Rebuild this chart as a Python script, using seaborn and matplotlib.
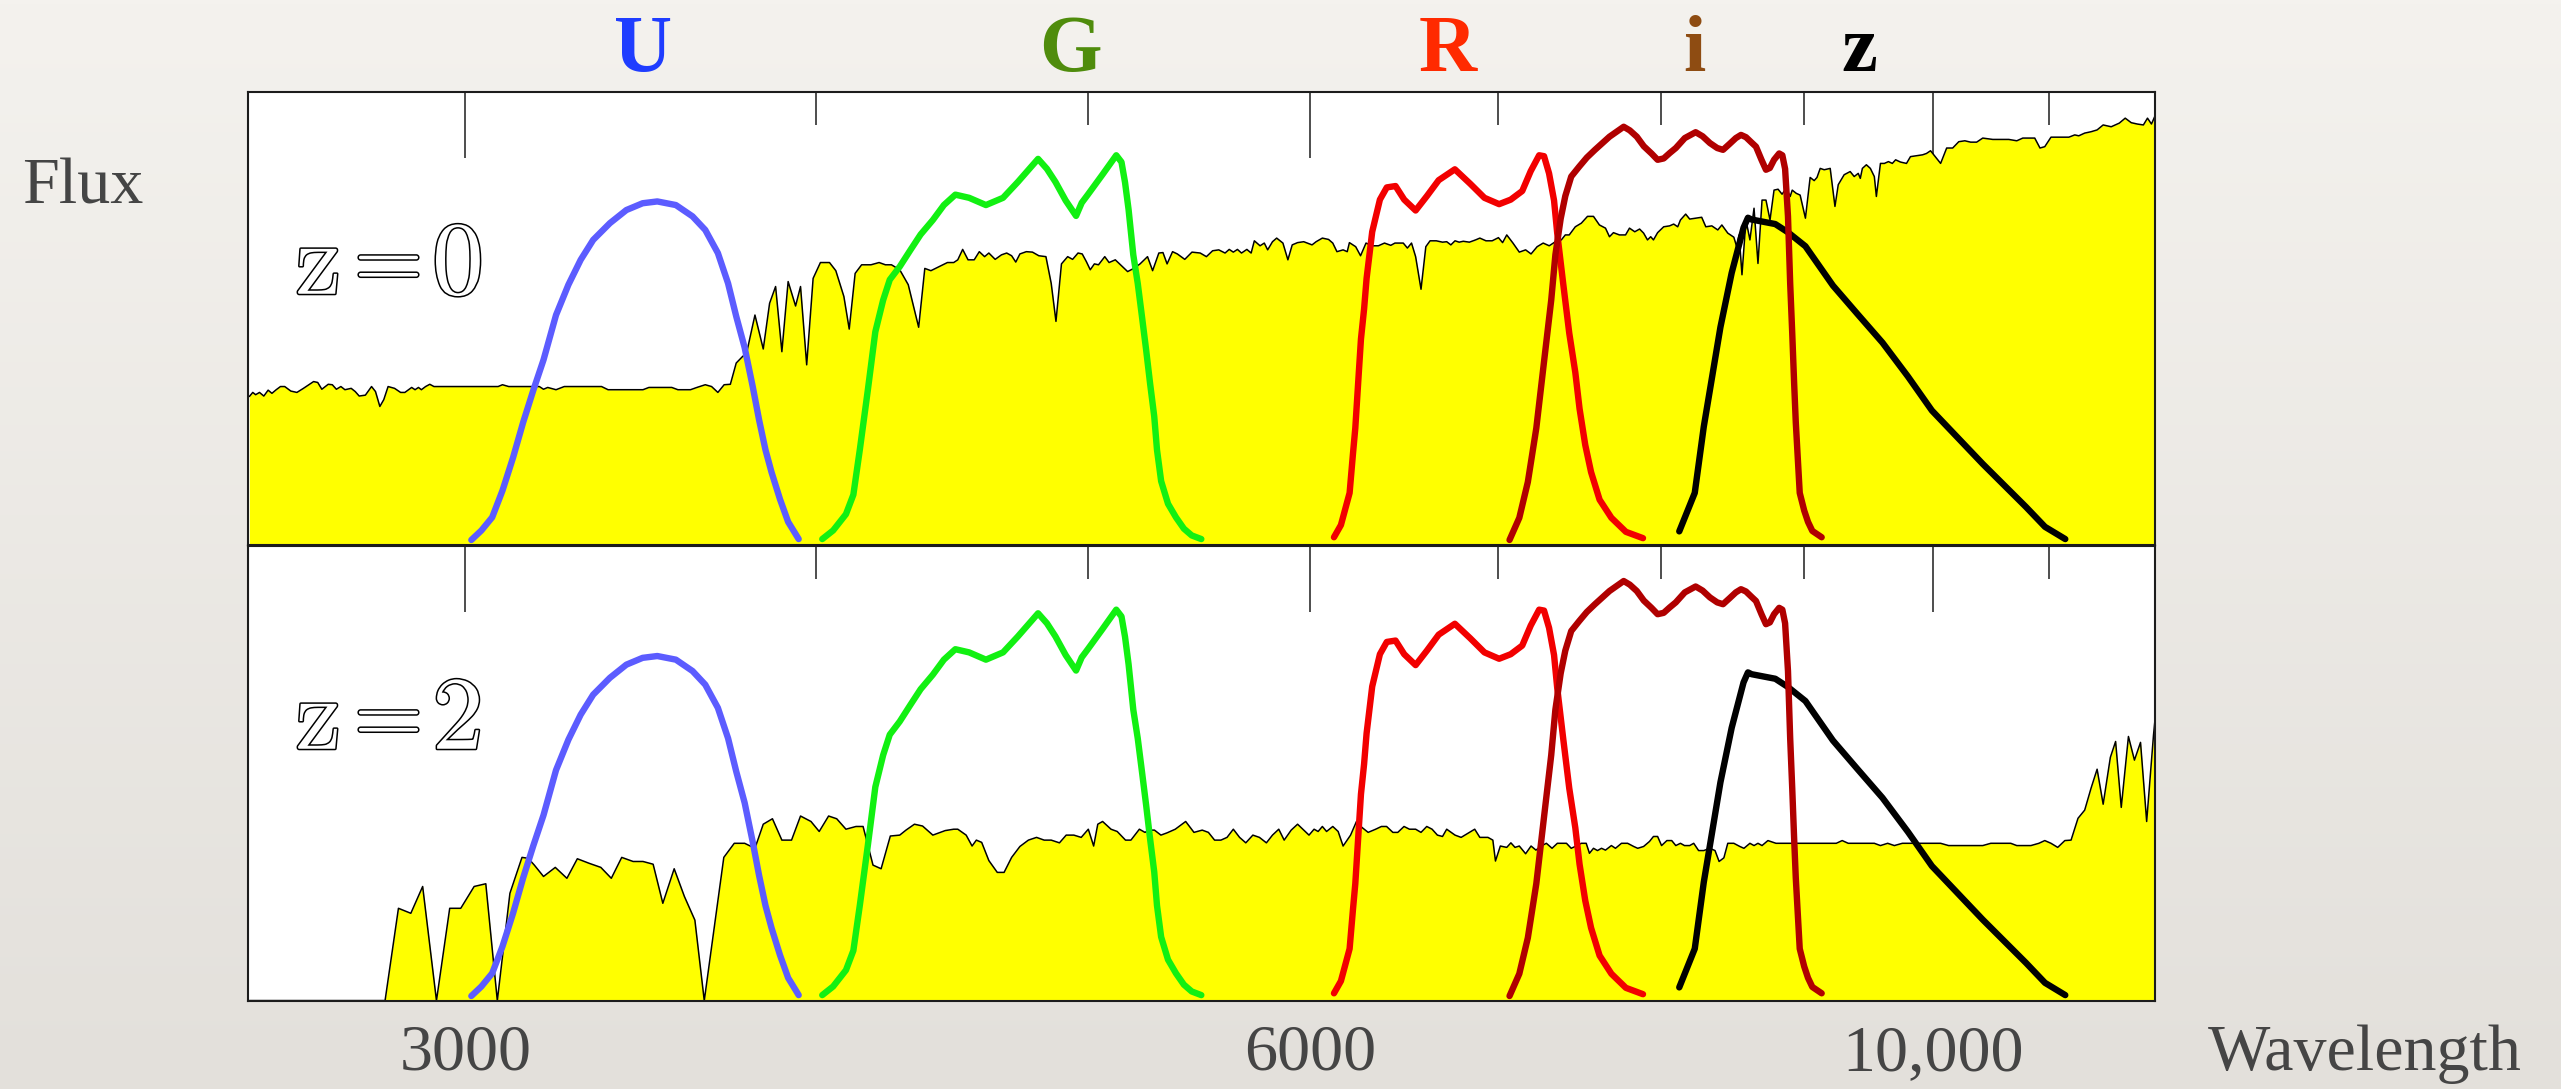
import numpy as np
import pandas as pd
import matplotlib
matplotlib.use("Agg")
import matplotlib.pyplot as plt
import matplotlib.patheffects as pe
from matplotlib.colors import LinearSegmentedColormap
from matplotlib.transforms import blended_transform_factory
from matplotlib.ticker import FixedLocator, FixedFormatter, NullFormatter
import seaborn as sns

# ---------------- galaxy spectrum at z = 0 (wavelength in Angstrom, relative flux) ----------------
z0_wave = [2513, 2520, 2526, 2534, 2543, 2552, 2560, 2569, 2578, 2587, 2600, 2613, 2627, 2640, 2649,
           2658, 2667, 2681, 2690, 2699, 2709, 2718, 2732, 2741, 2750, 2764, 2778, 2787, 2797, 2806,
           2816, 2831, 2845, 2855, 2865, 2871, 2879, 2887, 2894, 2904, 2914, 2924, 3082, 3093, 3109,
           3188, 3199, 3210, 3232, 3254, 3355, 3373, 3471, 3488, 3554, 3572, 3609, 3628, 3653, 3672,
           3691, 3710, 3729, 3747, 3766, 3779, 3805, 3831, 3851, 3870, 3890, 3910, 3934, 3950, 3970,
           3991, 4015, 4045, 4066, 4093, 4111, 4131, 4153, 4185, 4213, 4235,
           4256, 4285, 4315, 4337, 4352, 4374, 4396, 4426, 4456, 4479, 4494, 4512, 4532, 4555, 4574,
           4594, 4610, 4634, 4658, 4678, 4697, 4713, 4729, 4754, 4778, 4803, 4831, 4852, 4871, 4893,
           4918, 4938, 4960, 4977, 4994, 5010, 5027, 5044, 5070, 5088, 5114, 5140, 5166, 5192, 5219,
           5251, 5273, 5300, 5318, 5336, 5360, 5381, 5414, 5446, 5483, 5511, 5539, 5567, 5596, 5615,
           5634, 5653, 5672, 5697, 5717, 5732, 5759, 5779, 5795, 5818, 5838, 5868, 5892, 5913, 5939,
           5969, 6010, 6030, 6061, 6092, 6113, 6134, 6165, 6186, 6197, 6229, 6254, 6282, 6314, 6346,
           6378, 6411, 6433, 6477, 6499, 6521, 6543, 6572, 6598, 6621, 6655, 6689, 6712, 6735, 6758,
           6781, 6804, 6838, 6873, 6897, 6932, 6967, 7003, 7027, 7051, 7087, 7124, 7161,
           7193, 7229, 7265, 7301, 7338, 7374, 7398, 7422, 7459, 7496, 7534, 7571, 7608, 7646, 7671,
           7696, 7734, 7773, 7798, 7832, 7863, 7889, 7914, 7935, 7953, 7980, 8020, 8059, 8086, 8113,
           8131, 8166, 8193, 8233, 8274, 8302, 8343, 8384, 8412, 8453, 8495, 8515, 8532, 8552, 8580,
           8608, 8637, 8665, 8694, 8722, 8751, 8780, 8809, 8838, 8868, 8897, 8912, 8941, 8970, 9009,
           9044, 9074, 9095, 9119, 9149, 9194, 9230, 9255, 9300, 9346, 9377, 9408, 9424, 9440, 9471,
           9502, 9533, 9549, 9581, 9612, 9644, 9675, 9701, 9740, 9788, 9820, 9869, 9918, 9950, 9983,
           10066, 10116, 10166, 10217, 10268, 10317, 10368, 10420, 10506, 10645, 10715, 10768, 10874,
           10921, 10964, 11020, 11183, 11237, 11274, 11329, 11388, 11445, 11502, 11578, 11655, 11712,
           11770, 11829, 11888, 11928, 11967, 12000]
z0_flux = [0.327, 0.336, 0.331, 0.336, 0.328, 0.341, 0.334, 0.342, 0.349, 0.349, 0.339, 0.336, 0.345, 0.354, 0.360,
           0.358, 0.343, 0.354, 0.353, 0.343, 0.349, 0.342, 0.345, 0.338, 0.328, 0.330, 0.349, 0.338, 0.305, 0.320,
           0.349, 0.345, 0.336, 0.336, 0.343, 0.347, 0.342, 0.347, 0.342, 0.349, 0.354, 0.349, 0.349, 0.353, 0.349,
           0.349, 0.343, 0.347, 0.342, 0.349, 0.349, 0.342, 0.342, 0.347, 0.347, 0.342, 0.342, 0.347, 0.353, 0.349,
           0.336, 0.353, 0.354, 0.401, 0.415, 0.423, 0.507, 0.432, 0.533, 0.570, 0.426, 0.581, 0.527, 0.570, 0.397,
           0.588, 0.623, 0.623, 0.605, 0.548, 0.476, 0.599, 0.618, 0.618, 0.623, 0.618,
           0.618, 0.607, 0.574, 0.518, 0.480, 0.610, 0.605, 0.614, 0.623, 0.623, 0.629, 0.652, 0.629, 0.629, 0.647,
           0.636, 0.644, 0.630, 0.640, 0.644, 0.638, 0.624, 0.642, 0.647, 0.646, 0.638, 0.636, 0.577, 0.493, 0.620,
           0.636, 0.630, 0.644, 0.642, 0.625, 0.607, 0.620, 0.618, 0.636, 0.623, 0.629, 0.616, 0.603, 0.610, 0.620,
           0.636, 0.605, 0.644, 0.645, 0.620, 0.647, 0.642, 0.630, 0.646, 0.644, 0.636, 0.649, 0.651, 0.644, 0.652,
           0.646, 0.652, 0.644, 0.652, 0.644, 0.671, 0.660, 0.666, 0.651, 0.669, 0.677, 0.666, 0.629, 0.662, 0.667,
           0.669, 0.662, 0.669, 0.677, 0.674, 0.666, 0.647, 0.651, 0.647, 0.667, 0.658, 0.638, 0.666, 0.660, 0.660,
           0.666, 0.661, 0.666, 0.666, 0.655, 0.666, 0.636, 0.564, 0.658, 0.671, 0.671, 0.668, 0.669, 0.662, 0.671,
           0.668, 0.670, 0.668, 0.673, 0.677, 0.671, 0.671, 0.678, 0.667, 0.684, 0.666, 0.646, 0.651,
           0.642, 0.658, 0.666, 0.660, 0.669, 0.673, 0.684, 0.684, 0.702, 0.710, 0.725, 0.725, 0.706, 0.699, 0.680,
           0.689, 0.684, 0.684, 0.699, 0.691, 0.697, 0.688, 0.673, 0.680, 0.673, 0.689, 0.702, 0.704, 0.708, 0.702,
           0.717, 0.730, 0.719, 0.721, 0.723, 0.702, 0.704, 0.695, 0.706, 0.688, 0.679, 0.658, 0.684, 0.596, 0.717,
           0.673, 0.743, 0.621, 0.761, 0.761, 0.717, 0.783, 0.785, 0.774, 0.787, 0.769, 0.783, 0.776, 0.772, 0.721,
           0.811, 0.804, 0.811, 0.831, 0.828, 0.831, 0.747, 0.795, 0.817, 0.824, 0.813, 0.820, 0.809, 0.831, 0.839,
           0.831, 0.813, 0.769, 0.842, 0.842, 0.846, 0.842, 0.850, 0.845, 0.842, 0.857, 0.859, 0.861, 0.864, 0.870,
           0.842, 0.876, 0.876, 0.890, 0.892, 0.889, 0.889, 0.898, 0.895, 0.895, 0.892, 0.898, 0.898,
           0.876, 0.879, 0.900, 0.900, 0.905, 0.903, 0.909, 0.912, 0.916, 0.927, 0.923, 0.931, 0.942,
           0.932, 0.929, 0.927, 0.942, 0.929, 0.946]

# ---------------- the same galaxy redshifted to z = 2 ----------------
z2_wave = [2513, 2809, 2840, 2869, 2897, 2930, 2962, 2989, 3022, 3051, 3080, 3112, 3143, 3159, 3175,
           3199, 3230, 3261, 3289, 3321, 3353, 3382, 3411, 3443, 3471, 3500, 3528, 3561, 3591, 3622,
           3650, 3709, 3741, 3773, 3805, 3831, 3860, 3890, 3921, 3950, 3984, 4011, 4042, 4069, 4100,
           4134, 4158, 4192, 4220, 4252,
           4285, 4307, 4337, 4366, 4403, 4448, 4479, 4494, 4525, 4547, 4563, 4583, 4610, 4642, 4668,
           4697, 4729, 4762, 4794, 4824, 4852, 4885, 4912, 4943, 4973, 5002, 5024, 5041, 5061, 5096,
           5122, 5157, 5180, 5216, 5240, 5258, 5281, 5309, 5336, 5372, 5418, 5455, 5492, 5520, 5548,
           5577, 5605, 5634, 5663, 5692, 5725, 5756, 5789, 5818, 5848, 5874, 5908, 5939, 5969, 5995,
           6020, 6040, 6061, 6082, 6113, 6140, 6165, 6203, 6233, 6261, 6293, 6332, 6362, 6389, 6422,
           6448, 6481, 6510, 6543, 6572, 6603, 6632, 6661, 6689, 6712, 6758, 6792, 6838, 6868, 6897,
           6943, 6971, 6986, 7014, 7051, 7075, 7099, 7124, 7161,
           7193, 7222, 7253, 7284, 7318, 7350, 7405, 7434, 7464, 7496, 7526, 7546, 7571, 7596, 7621,
           7646, 7683, 7709, 7747, 7786, 7825, 7851, 7889, 7927, 7953, 7980, 8006, 8041, 8073, 8100,
           8131, 8158, 8193, 8220, 8253, 8288, 8330, 8365, 8393, 8426, 8453, 8495, 8537, 8566, 8608,
           8637, 8665, 8694, 8736, 8794, 9240, 9285, 9331, 9533, 9581, 9638, 9691, 9755, 10066, 10132,
           10420, 10489, 10662, 10715, 10840, 10911, 10964, 11020, 11081, 11146, 11203, 11267, 11329,
           11388, 11445, 11502, 11570, 11620, 11674, 11743, 11801, 11860, 11920, 11987, 12000]
z2_flux = [0.0, 0.0, 0.203, 0.192, 0.251, 0.0, 0.203, 0.203, 0.251, 0.257, 0.0, 0.236, 0.315, 0.313, 0.298,
           0.273, 0.293, 0.269, 0.312, 0.302, 0.293, 0.269, 0.315, 0.306, 0.306, 0.300, 0.214, 0.290, 0.229, 0.177,
           0.0, 0.315, 0.346, 0.346, 0.335, 0.388, 0.400, 0.353, 0.353, 0.406, 0.394, 0.372, 0.406, 0.400, 0.377,
           0.383, 0.383, 0.298, 0.290, 0.362,
           0.364, 0.375, 0.388, 0.384, 0.364, 0.374, 0.377, 0.377, 0.364, 0.340, 0.353, 0.348, 0.308, 0.282, 0.282,
           0.315, 0.339, 0.353, 0.359, 0.353, 0.353, 0.347, 0.364, 0.364, 0.359, 0.377, 0.340, 0.388, 0.394, 0.377,
           0.372, 0.353, 0.353, 0.377, 0.370, 0.375, 0.375, 0.364, 0.369, 0.377, 0.394, 0.370, 0.375, 0.370, 0.353,
           0.353, 0.359, 0.377, 0.359, 0.347, 0.364, 0.359, 0.347, 0.364, 0.377, 0.353, 0.375, 0.388, 0.375, 0.364,
           0.377, 0.372, 0.383, 0.372, 0.383, 0.372, 0.340, 0.364, 0.394, 0.381, 0.370, 0.377, 0.383, 0.383, 0.370,
           0.370, 0.383, 0.377, 0.377, 0.370, 0.383, 0.377, 0.364, 0.361, 0.377, 0.364, 0.359, 0.370, 0.377, 0.359,
           0.359, 0.353, 0.307, 0.340, 0.337, 0.347, 0.337, 0.340, 0.323,
           0.340, 0.331, 0.340, 0.346, 0.335, 0.346, 0.346, 0.335, 0.340, 0.346, 0.346, 0.324, 0.335, 0.330, 0.335,
           0.331, 0.341, 0.335, 0.346, 0.346, 0.339, 0.335, 0.339, 0.350, 0.361, 0.361, 0.341, 0.352, 0.352, 0.341,
           0.346, 0.341, 0.341, 0.346, 0.330, 0.330, 0.335, 0.330, 0.306, 0.314, 0.346, 0.346, 0.339, 0.335, 0.346,
           0.341, 0.346, 0.341, 0.352, 0.346, 0.346, 0.352, 0.346, 0.346, 0.341, 0.346, 0.341, 0.346, 0.346, 0.341,
           0.341, 0.346, 0.346, 0.341, 0.341, 0.346, 0.352, 0.346, 0.337, 0.352, 0.353, 0.401, 0.419,
           0.467, 0.509, 0.432, 0.535, 0.570, 0.425, 0.581, 0.529, 0.568, 0.394, 0.584, 0.614]

# ---------------- filter transmission curves (relative response) ----------------
u_wave = [3015, 3040, 3067, 3093, 3120, 3146, 3172, 3199, 3232, 3265, 3298, 3332, 3378, 3424, 3470,
          3512, 3566, 3615, 3653, 3691, 3722, 3747, 3773, 3798, 3818, 3838, 3857, 3884, 3910, 3944]
u_resp = [0.010, 0.031, 0.060, 0.119, 0.192, 0.270, 0.340, 0.408, 0.507, 0.574, 0.629, 0.673, 0.710, 0.739, 0.754,
          0.758, 0.750, 0.725, 0.695, 0.644, 0.577, 0.504, 0.435, 0.349, 0.275, 0.209, 0.160, 0.100, 0.050, 0.012]

g_wave = [4021, 4057, 4100, 4125, 4147, 4174, 4200, 4227, 4250, 4285, 4322, 4359, 4403, 4443, 4485,
          4536, 4599, 4664, 4721, 4800, 4835, 4869, 4910, 4952, 4975, 5000, 5060, 5118, 5140, 5155,
          5170, 5190, 5209, 5227, 5245, 5262, 5280, 5292, 5310, 5340, 5375, 5410, 5445, 5488]
g_resp = [0.012, 0.031, 0.067, 0.110, 0.210, 0.340, 0.470, 0.540, 0.585, 0.614, 0.650, 0.685, 0.717, 0.750, 0.773,
          0.766, 0.750, 0.766, 0.801, 0.852, 0.830, 0.801, 0.760, 0.726, 0.755, 0.773, 0.817, 0.860, 0.845, 0.800,
          0.740, 0.640, 0.577, 0.504, 0.430, 0.356, 0.283, 0.209, 0.140, 0.090, 0.060, 0.035, 0.020, 0.012]

r_wave = [6119, 6154, 6198, 6215, 6227, 6245, 6256, 6272, 6285, 6314, 6354, 6390, 6436, 6482, 6543,
          6604, 6668, 6757, 6843, 6923, 7007, 7074, 7141, 7191, 7241, 7270, 7300, 7330, 7349, 7385,
          7422, 7459, 7485, 7520, 7556, 7609, 7683, 7775, 7885]
r_resp = [0.016, 0.043, 0.114, 0.200, 0.257, 0.380, 0.454, 0.520, 0.588, 0.691, 0.762, 0.789, 0.792, 0.762, 0.738,
          0.770, 0.805, 0.829, 0.797, 0.766, 0.752, 0.762, 0.781, 0.825, 0.860, 0.858, 0.820, 0.760, 0.688, 0.577,
          0.467, 0.380, 0.300, 0.220, 0.160, 0.099, 0.059, 0.028, 0.014]

i_wave = [7067, 7124, 7174, 7224, 7275, 7313, 7338, 7370, 7398, 7434, 7483, 7530, 7580, 7671, 7761,
          7800, 7845, 7890, 7940, 7980, 8020, 8060, 8100, 8160, 8233, 8280, 8330, 8380, 8420, 8465,
          8509, 8545, 8580, 8620, 8651, 8690, 8722, 8750, 8780, 8817, 8840, 8860, 8881, 8897, 8912,
          8926, 8938, 8967, 9000, 9028, 9060, 9130]
i_resp = [0.010, 0.059, 0.138, 0.257, 0.420, 0.540, 0.640, 0.720, 0.770, 0.813, 0.835, 0.855, 0.872, 0.901, 0.923,
          0.915, 0.901, 0.880, 0.864, 0.850, 0.853, 0.865, 0.876, 0.898, 0.911, 0.902, 0.887, 0.876, 0.872, 0.885,
          0.898, 0.905, 0.900, 0.888, 0.879, 0.850, 0.828, 0.832, 0.850, 0.864, 0.860, 0.830, 0.725, 0.577, 0.467,
          0.356, 0.270, 0.114, 0.075, 0.050, 0.030, 0.016]

z_wave = [8123, 8227, 8288, 8402, 8480, 8563, 8594, 8620, 8789, 8880, 9009, 9215, 9400, 9597, 9800,
          9994, 10420, 10796, 10966, 11150]
z_resp = [0.029, 0.114, 0.260, 0.480, 0.600, 0.700, 0.722, 0.718, 0.708, 0.690, 0.659, 0.572, 0.510, 0.446, 0.371,
          0.296, 0.178, 0.083, 0.039, 0.012]

# ---------------- labels ----------------
band_names = ["U", "G", "R", "i", "z"]
band_label_wave = [3471, 4930, 6717, 8226, 9417]
band_label_colors = ["#1f3dff", "#4f8c0c", "#ff2a00", "#8e4c12", "#000000"]
curve_colors = {"U": "#5c5cff", "G": "#12f012", "R": "#f20000", "i": "#b00000", "z": "#000000"}
panel_redshifts = ["0", "2"]
tick_values = [3000, 6000, 10000]
tick_labels = ["3000", "6000", "10,000"]
minor_tick_values = [4000, 5000, 7000, 8000, 9000, 11000, 12000]

# ---------------- style ----------------
sns.set_style("white")
plt.rcParams["font.family"] = ["Liberation Serif", "DejaVu Serif"]
text_grey = "#454545"
spine_col = "#1c1c1c"

filters = pd.concat([
    pd.DataFrame({"wave": w, "resp": r, "band": b})
    for b, w, r in [("U", u_wave, u_resp), ("G", g_wave, g_resp), ("z", z_wave, z_resp),
                    ("R", r_wave, r_resp), ("i", i_wave, i_resp)]
], ignore_index=True)

fig = plt.figure(figsize=(25.61, 10.89), dpi=100)

# paper-like backdrop with a soft vertical shade
bg = fig.add_axes([0, 0, 1, 1], zorder=-10)
shade = LinearSegmentedColormap.from_list("paper", ["#f4f2ee", "#e3e0db"])
bg.imshow(np.linspace(0, 1, 256).reshape(-1, 1), aspect="auto", cmap=shade,
          extent=[0, 1, 0, 1], origin="upper")
bg.axis("off")

ax_top = fig.add_axes([0.0968, 0.5000, 0.7446, 0.4156])
ax_bot = fig.add_axes([0.0968, 0.0812, 0.7446, 0.4174])

# hollow "z = n" captions in Computer Modern, one glyph at a time:
# (text, x in axes fraction, baseline in axes fraction, font size)
caption_parts = [("z", 0.0248, 0.554, 75), ("=", 0.0556, 0.566, 64), (None, 0.0965, 0.554, 75)]
outline = [pe.withStroke(linewidth=2.2, foreground="black")]

spectra = [(ax_top, z0_wave, z0_flux), (ax_bot, z2_wave, z2_flux)]
for (ax, wave, flux), zlabel in zip(spectra, panel_redshifts):
    ax.set_facecolor("white")
    ax.set_xscale("log")
    ax.set_xlim(2510, 12000)
    ax.set_ylim(0, 1)

    # filled spectrum
    ax.fill_between(wave, flux, 0, color="#ffff00", linewidth=0, zorder=1)
    sns.lineplot(x=wave, y=flux, ax=ax, color="black", linewidth=1.1,
                 estimator=None, sort=False, zorder=2)

    # filter curves
    sns.lineplot(data=filters, x="wave", y="resp", hue="band",
                 hue_order=["U", "G", "z", "R", "i"], palette=curve_colors,
                 linewidth=4.6, estimator=None, sort=False, legend=False, ax=ax, zorder=3)

    ax.set_xlabel("")
    ax.set_ylabel("")
    ax.set_yticks([])

    ax.xaxis.set_major_locator(FixedLocator(tick_values))
    ax.xaxis.set_minor_locator(FixedLocator(minor_tick_values))
    ax.xaxis.set_minor_formatter(NullFormatter())
    ax.tick_params(axis="x", which="major", direction="in", length=47.5, width=1.1,
                   color=spine_col, top=True, bottom=True)
    ax.tick_params(axis="x", which="minor", direction="in", length=24, width=1.1,
                   color=spine_col, top=True, bottom=True)
    for sp in ax.spines.values():
        sp.set_visible(True)
        sp.set_color(spine_col)
        sp.set_linewidth(1.5)

    for part, xpos, ypos, fs in caption_parts:
        s = part if part is not None else zlabel
        ax.text(xpos, ypos, s, transform=ax.transAxes, family="cmr10",
                fontsize=fs, color="white", ha="left", va="baseline",
                zorder=5, path_effects=outline)

ax_top.xaxis.set_major_formatter(NullFormatter())
ax_top.tick_params(axis="x", labelbottom=False, labeltop=False)

ax_bot.xaxis.set_major_formatter(FixedFormatter(tick_labels))
ax_bot.tick_params(axis="x", which="major", labelsize=47.5, labelcolor=text_grey, pad=17,
                   labelbottom=True, labeltop=False)

# band names above the top panel
trans = blended_transform_factory(ax_top.transData, ax_top.transAxes)
for name, w, c in zip(band_names, band_label_wave, band_label_colors):
    ax_top.text(w, 1.046, name, transform=trans, ha="center", va="baseline",
                fontsize=58, fontweight="bold", color=c)

fig.text(0.0086, 0.8127, "Flux", fontsize=47.5, color=text_grey, ha="left", va="baseline")
fig.text(0.8622, 0.0175, "Wavelength", fontsize=47.5, color=text_grey, ha="left", va="baseline")

fig.savefig("out.png", dpi=100)
